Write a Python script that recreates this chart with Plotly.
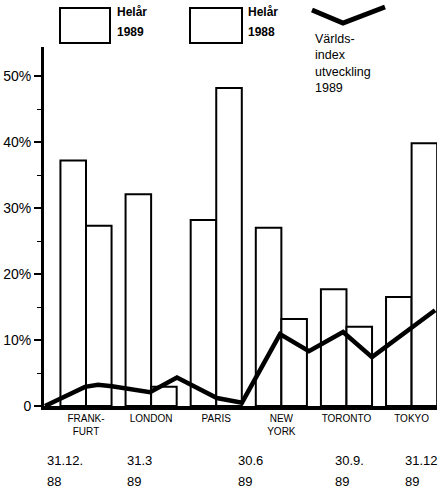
import plotly.graph_objects as go

# ---- data ----
cities = ["FRANK-<br>FURT", "LONDON", "PARIS", "NEW<br>YORK", "TORONTO", "TOKYO"]
helar_1989 = [37.2, 32.1, 28.2, 27.0, 17.7, 16.5]
helar_1988 = [27.3, 2.9, 48.2, 13.2, 12.0, 39.8]

# world index development 1989, x in months after 31.12.88
index_month = [0, 1.23, 1.63, 2.06, 3.23, 4.06, 5.29, 6.06, 7.23, 8.12, 9.17, 10.06, 12]
index_value = [0, 2.9, 3.2, 3.0, 2.1, 4.3, 1.2, 0.5, 10.9, 8.3, 11.2, 7.4, 14.5]

y_tickvals = [0, 10, 20, 30, 40, 50]
y_ticktext = ["0", "10%", "20%", "30%", "40%", "50%"]

date_top = ["31.12.", "31.3", "30.6", "30.9.", "31.12"]
date_bottom = ["88", "89", "89", "89", "89"]
date_xpos = [0.003, 0.206, 0.489, 0.735, 0.913]

FONT = "Liberation Sans, Arial, Helvetica, sans-serif"

fig = go.Figure()
fig.add_trace(go.Bar(x=list(range(len(cities))), y=helar_1989, name="Helår 1989",
                     marker=dict(color="white", line=dict(color="black", width=2)),
                     offsetgroup="a"))
fig.add_trace(go.Bar(x=list(range(len(cities))), y=helar_1988, name="Helår 1988",
                     marker=dict(color="white", line=dict(color="black", width=2)),
                     offsetgroup="b"))
fig.add_trace(go.Scatter(x=index_month, y=index_value, xaxis="x2", mode="lines",
                         line=dict(color="black", width=4.5), cliponaxis=False,
                         name="Världsindex"))

# px -> paper helpers for decorations (plot area: x 44..437, y 47..406)
def px(x):
    return (x - 44) / 393.0

def py(y):
    return (406 - y) / 359.0

shapes = [
    dict(type="rect", xref="paper", yref="paper", x0=px(60), x1=px(110), y0=py(43), y1=py(8),
         line=dict(color="black", width=2), fillcolor="white"),
    dict(type="rect", xref="paper", yref="paper", x0=px(190), x1=px(242), y0=py(43), y1=py(8),
         line=dict(color="black", width=2), fillcolor="white"),
    dict(type="path", xref="paper", yref="paper",
         path=f"M {px(312)},{py(10)} L {px(343)},{py(23)} L {px(385)},{py(7)}",
         line=dict(color="black", width=5)),
]

annotations = [
    dict(xref="paper", yref="paper", x=px(115), y=py(12), text="<b>Helår</b>", showarrow=False,
         xanchor="left", yanchor="middle", font=dict(size=12, family=FONT, color="black")),
    dict(xref="paper", yref="paper", x=px(115), y=py(32), text="<b>1989</b>", showarrow=False,
         xanchor="left", yanchor="middle", font=dict(size=12, family=FONT, color="black")),
    dict(xref="paper", yref="paper", x=px(246), y=py(12), text="<b>Helår</b>", showarrow=False,
         xanchor="left", yanchor="middle", font=dict(size=12, family=FONT, color="black")),
    dict(xref="paper", yref="paper", x=px(246), y=py(32), text="<b>1988</b>", showarrow=False,
         xanchor="left", yanchor="middle", font=dict(size=12, family=FONT, color="black")),
    dict(xref="paper", yref="paper", x=px(313), y=py(30), text="Världs-<br>index<br>utveckling<br>1989",
         showarrow=False, xanchor="left", yanchor="top", align="left",
         font=dict(size=12.5, family=FONT, color="black")),
]
for xp, t, b in zip(date_xpos, date_top, date_bottom):
    annotations.append(dict(xref="paper", yref="paper", x=xp, y=py(460), text=t, showarrow=False,
                            xanchor="left", yanchor="middle", font=dict(size=13, family=FONT, color="black")))
    annotations.append(dict(xref="paper", yref="paper", x=xp, y=py(481), text=b, showarrow=False,
                            xanchor="left", yanchor="middle", font=dict(size=13, family=FONT, color="black")))

fig.update_layout(
    width=440, height=489,
    margin=dict(l=44, r=3, t=47, b=83),
    paper_bgcolor="white", plot_bgcolor="white",
    showlegend=False,
    barmode="group", bargap=0.215, bargroupgap=0,
    font=dict(family=FONT, color="black"),
    xaxis=dict(range=[-0.645, 5.39], tickmode="array", tickvals=list(range(len(cities))),
               ticktext=cities, showgrid=False, zeroline=False, showline=True,
               linecolor="black", linewidth=4, ticks="", tickfont=dict(size=10, family=FONT),
               fixedrange=True),
    xaxis2=dict(range=[-0.03, 12.06], overlaying="x", visible=False),
    yaxis=dict(range=[0, 54.4], tickmode="array", tickvals=y_tickvals, ticktext=y_ticktext,
               showgrid=False, zeroline=False, showline=True, linecolor="black", linewidth=3,
               ticks="outside", ticklen=7, tickwidth=1.5, tickcolor="black",
               minor=dict(tickmode="array", tickvals=[5, 15, 25, 35, 45], ticks="outside",
                          ticklen=4, tickwidth=1.2, tickcolor="black"),
               tickfont=dict(size=14, family=FONT)),
    shapes=shapes,
    annotations=annotations,
)

fig.write_html("out.html")
